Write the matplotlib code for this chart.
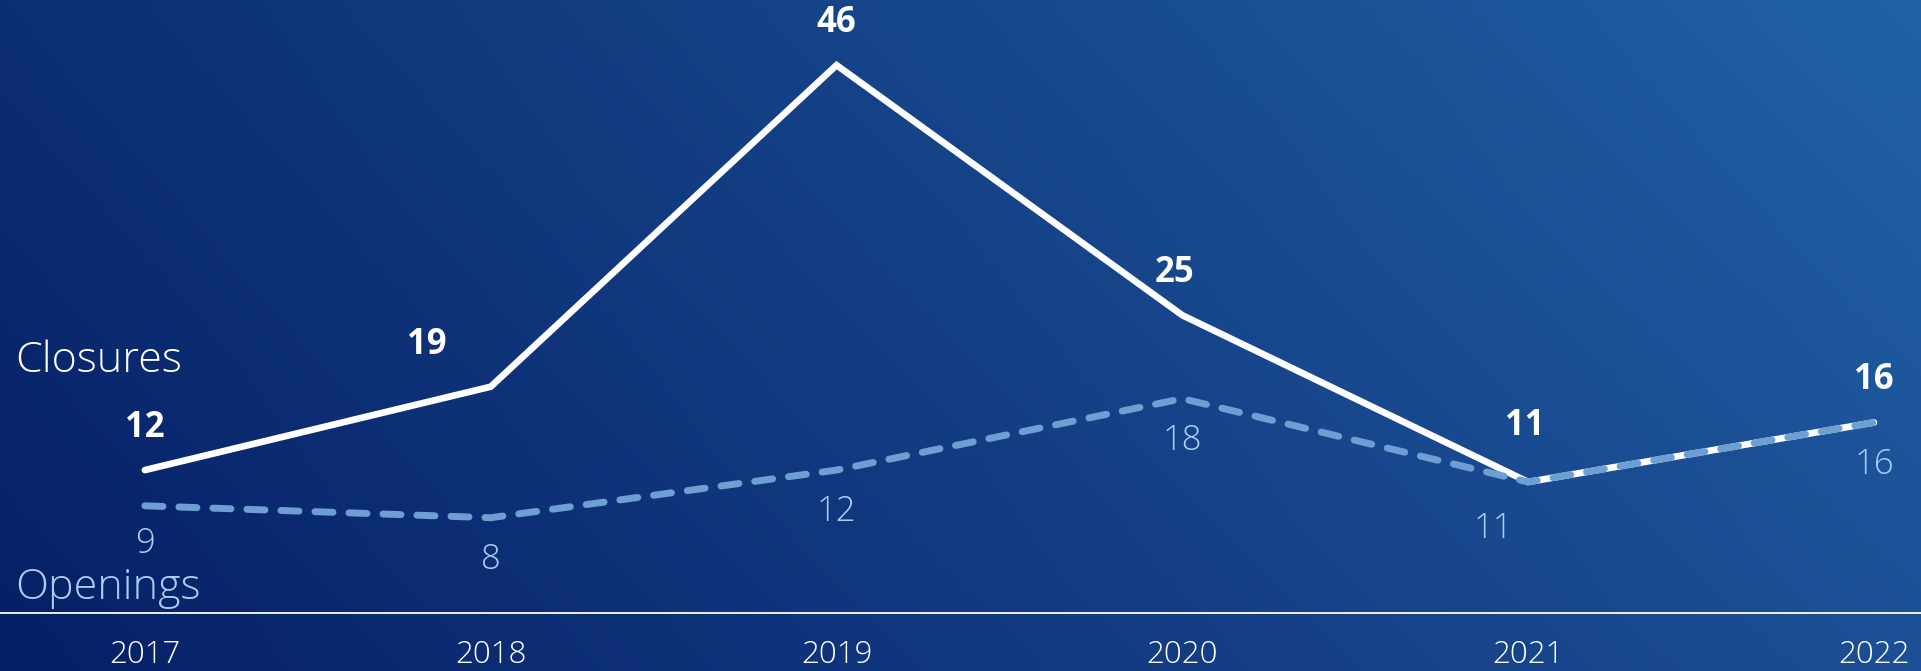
import numpy as np
import matplotlib.pyplot as plt
from matplotlib.colors import to_rgb

# Data
years = [2017, 2018, 2019, 2020, 2021, 2022]
closures = [12, 19, 46, 25, 11, 16]
openings = [9, 8, 12, 18, 11, 16]

# label nudges in pixels (dx, dy) relative to the default offset
closure_nudge = {2018: (-64, 0), 2020: (-8, 0), 2021: (-3, 14)}
opening_nudge = {2017: (0, 4), 2021: (-35, -5)}

font = ['Open Sans', 'DejaVu Sans']
plt.rcParams['font.family'] = font

fig = plt.figure(figsize=(19.21, 6.71), dpi=100)
ax = fig.add_axes([0, 0, 1, 1])

# diagonal gradient background (corners: bottom-left, bottom-right, top-left, top-right)
bl, br = np.array(to_rgb('#061f67')), np.array(to_rgb('#1c4f95'))
tl, tr = np.array(to_rgb('#0c2e72')), np.array(to_rgb('#2161a5'))
u = np.linspace(0, 1, 400)[None, :, None]
v = np.linspace(0, 1, 140)[:, None, None]
grad = (1 - v) * ((1 - u) * bl + u * br) + v * ((1 - u) * tl + u * tr)
ax.imshow(grad, extent=[0, 1, 0, 1], transform=ax.transAxes,
          origin='lower', aspect='auto', zorder=0)

ax.set_xlim(2016.581, 2022.136)
ax.set_ylim(-4.87, 51.47)
ax.axis('off')

# baseline
ax.axhline(0, color='white', lw=1.3, zorder=1)

ax.plot(years, closures, color='white', lw=4.8, solid_capstyle='round',
        solid_joinstyle='miter', zorder=3)
ax.plot(years, openings, color='#6e9fd2', lw=5.0, linestyle=(0, (2.6, 2.3)),
        dash_capstyle='round', zorder=4)

for x, y in zip(years, closures):
    dx, dy = closure_nudge.get(x, (0, 0))
    ax.annotate(str(y), (x, y), xytext=(dx * 0.72, (42 + dy) * 0.72),
                textcoords='offset points', ha='center', va='center',
                fontsize=25, fontweight='bold', color='white', zorder=5)

for x, y in zip(years, openings):
    dx, dy = opening_nudge.get(x, (0, 0))
    ax.annotate(str(y), (x, y), xytext=(dx * 0.72, (-42 + dy) * 0.72),
                textcoords='offset points', ha='center', va='center',
                fontsize=25, fontweight='light', color='#a8d0f2', zorder=5)

# year labels
for x in years:
    ax.text(x, -3.55, str(x), ha='center', va='center', fontsize=22.5,
            color='white', fontweight='light')

# series labels
ax.text(15 / 1921, 1 - 361 / 671, 'Closures', transform=ax.transAxes,
        ha='left', va='center', fontsize=31, color='white', fontweight='light')
ax.text(15 / 1921, 1 - 588 / 671, 'Openings', transform=ax.transAxes,
        ha='left', va='center', fontsize=31, color='#a8d0f2', fontweight='light')

fig.savefig('out.png', dpi=100)
